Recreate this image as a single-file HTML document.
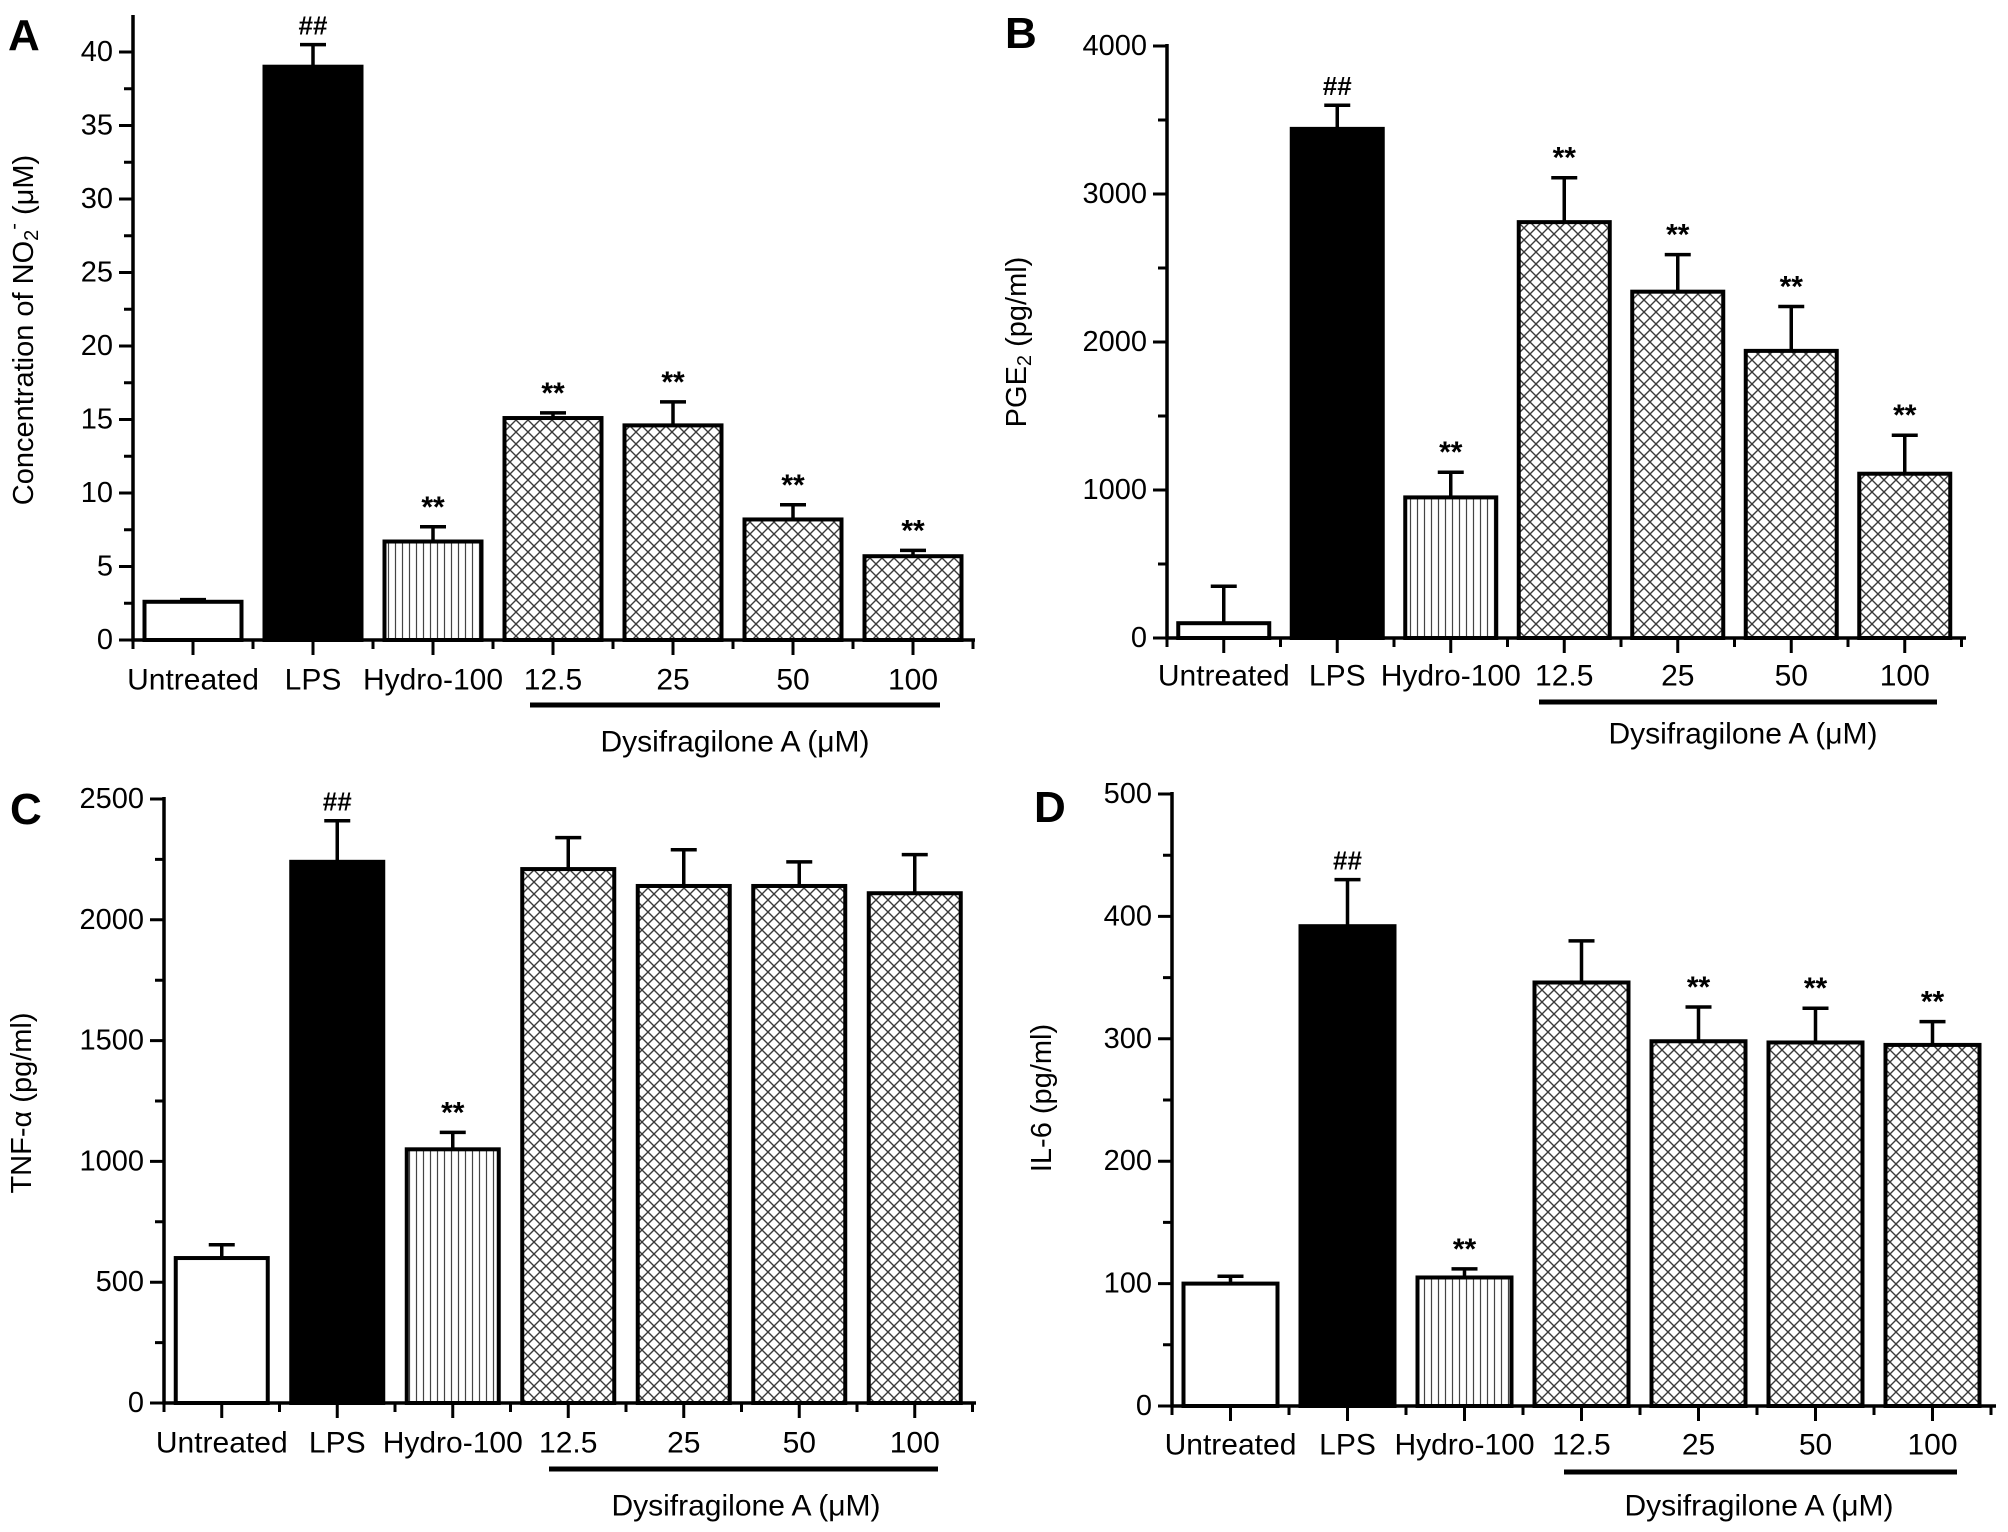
<!DOCTYPE html>
<html><head><meta charset="utf-8"><style>
html,body{margin:0;padding:0;background:#fff;}
svg{display:block;font-family:"Liberation Sans",Arial,sans-serif;}
</style></head><body>
<svg id="fig" width="2008" height="1532" viewBox="0 0 2008 1532" xmlns="http://www.w3.org/2000/svg">
<defs>
<pattern id="cross" patternUnits="userSpaceOnUse" width="12" height="12">
<rect width="12" height="12" fill="#fff"/>
<path d="M0,0L12,12M12,0L0,12M-3,9L3,15M9,-3L15,3M-3,3L3,-3M9,15L15,9" stroke="#3a3a3a" stroke-width="1.4"/>
</pattern>
<pattern id="vert" patternUnits="userSpaceOnUse" width="7" height="10">
<rect width="7" height="10" fill="#fff"/>
<line x1="3.5" y1="0" x2="3.5" y2="10" stroke="#444" stroke-width="1.2"/>
</pattern>
</defs>
</svg>
<script>
const categories = ["Untreated","LPS","Hydro-100","12.5","25","50","100"];
const valuesA = [2.6, 39, 6.7, 15.1, 14.6, 8.2, 5.7];
const errorsA = [0.15, 1.5, 1.0, 0.35, 1.6, 1.0, 0.4];
const sigA = ["", "##", "**", "**", "**", "**", "**"];
const ticksA = [0,5,10,15,20,25,30,35,40];
const valuesB = [100, 3440, 950, 2810, 2340, 1940, 1110];
const errorsB = [250, 160, 170, 300, 250, 300, 260];
const sigB = ["", "##", "**", "**", "**", "**", "**"];
const ticksB = [0,1000,2000,3000,4000];
const valuesC = [600, 2240, 1050, 2210, 2140, 2140, 2110];
const errorsC = [55, 170, 70, 130, 150, 100, 160];
const sigC = ["", "##", "**", "", "", "", ""];
const ticksC = [0,500,1000,1500,2000,2500];
const valuesD = [100, 392, 105, 346, 298, 297, 295];
const errorsD = [6, 38, 7, 34, 28, 28, 19];
const sigD = ["", "##", "**", "", "**", "**", "**"];
const ticksD = [0,100,200,300,400,500];

const NS = "http://www.w3.org/2000/svg";
const svg = document.getElementById("fig");
function mk(tag, attrs, parent){
  const e = document.createElementNS(NS, tag);
  for (const k in attrs) e.setAttribute(k, attrs[k]);
  (parent||svg).appendChild(e);
  return e;
}
const fills = ["#fff","#000","url(#vert)","url(#cross)","url(#cross)","url(#cross)","url(#cross)"];

function panel(p){
  const g = mk("g", {});
  
  
  const maxV = p.ticks[p.ticks.length-1];
  const y = v => p.y0 - (v / maxV) * (p.y0 - p.yTop);
  const xc = i => p.xStart + p.step * (i + 0.5);
  // letter
  const L = mk("text", {x:p.lx, y:p.ly, "font-size":44, "font-weight":"bold"}, g);
  L.textContent = p.id;
  
  
  // bars
  categories.forEach((c,i)=>{
    const v = p.values[i], e = p.errors[i];
    const bx = xc(i) - p.bw/2;
    const r = mk("rect", {x:bx, y:y(v), width:p.bw, height:p.y0 - y(v), fill:fills[i], stroke:"#000", "stroke-width":4}, g);
    
    
    const eb = mk("path", {d:`M${xc(i)},${y(v)}V${y(v+e)}M${xc(i)-13},${y(v+e)}H${xc(i)+13}`, stroke:"#000", "stroke-width":3.5, fill:"none"}, g);
    
    
    if (p.sig[i]) {
      const s = mk("text", {x:xc(i), y:y(v+e)-10, "font-size":p.sig[i]==="##"?26:30, "font-weight":"bold", "text-anchor":"middle"}, g);
      s.textContent = p.sig[i];
      
      
    }
    const t = mk("text", {x:xc(i), y:p.labY, "font-size":30, "text-anchor":"middle", "dominant-baseline":"central"}, g);
    t.textContent = c;
    
    
  });
  // axes
  const ax = mk("path", {d:`M${p.xStart},${p.axTop}V${p.y0}H${p.xEnd}`, stroke:"#000", "stroke-width":3.5, fill:"none"}, g);
  
  
  let d = "";
  p.ticks.forEach((tv,k)=>{
    d += `M${p.xStart-14},${y(tv)}H${p.xStart}`;
    if (k < p.ticks.length-1) { const m = (tv + p.ticks[k+1])/2; d += `M${p.xStart-9},${y(m)}H${p.xStart}`; }
    const t = mk("text", {x:p.xStart-20, y:y(tv), "font-size":29, "text-anchor":"end", "dominant-baseline":"central"}, g);
    t.textContent = tv;
    
    
  });
  for (let i=0;i<=categories.length;i++){
    const bxp = p.xStart + p.step*i;
    d += `M${bxp},${p.y0}V${p.y0+9}`;
    if (i<categories.length) d += `M${xc(i)},${p.y0}V${p.y0+15}`;
  }
  const tk = mk("path", {d, stroke:"#000", "stroke-width":3, fill:"none"}, g);
  
  
  // group underline and label
  const ul = mk("line", {x1:p.ulX1, x2:p.ulX2, y1:p.ulY, y2:p.ulY, stroke:"#000", "stroke-width":5}, g);
  
  
  const gl = mk("text", {x:p.glX, y:p.glY, "font-size":30, "text-anchor":"middle", "dominant-baseline":"central"}, g);
  gl.textContent = "Dysifragilone A (\u03bcM)";
  
  
  // y title
  const yt = mk("text", {x:0, y:0, "font-size":29, "text-anchor":"middle", "dominant-baseline":"central", transform:`translate(${p.ytX},${p.ytY}) rotate(-90)`}, g);
  yt.innerHTML = p.ytitle;
  
  
}

panel({id:"A", values:valuesA, errors:errorsA, sig:sigA, ticks:ticksA,
  xStart:133, step:120, bw:97, xEnd:975, y0:640, yTop:52, axTop:15,
  lx:8, ly:50, labY:680, ulX1:530, ulX2:940, ulY:705, glX:735, glY:742,
  ytX:24, ytY:330, ytitle:'Concentration of NO<tspan font-size="20" dy="8">2</tspan><tspan font-size="20" dy="-18">-</tspan><tspan dy="10"> (\u03bcM)</tspan>'});
panel({id:"B", values:valuesB, errors:errorsB, sig:sigB, ticks:ticksB,
  xStart:1167, step:113.5, bw:91, xEnd:1966, y0:638, yTop:46, axTop:44,
  lx:1005, ly:48, labY:676, ulX1:1539, ulX2:1937, ulY:702, glX:1743, glY:734,
  ytX:1017, ytY:342, ytitle:'PGE<tspan font-size="20" dy="8">2</tspan><tspan dy="-8"> (pg/ml)</tspan>'});
panel({id:"C", values:valuesC, errors:errorsC, sig:sigC, ticks:ticksC,
  xStart:164, step:115.5, bw:92, xEnd:976, y0:1403, yTop:799, axTop:797,
  lx:10, ly:824, labY:1443, ulX1:549, ulX2:938, ulY:1469, glX:746, glY:1506,
  ytX:22, ytY:1103, ytitle:'TNF-\u03b1 (pg/ml)'});
panel({id:"D", values:valuesD, errors:errorsD, sig:sigD, ticks:ticksD,
  xStart:1172, step:117, bw:94, xEnd:1996, y0:1406, yTop:794, axTop:792,
  lx:1034, ly:822, labY:1445, ulX1:1564, ulX2:1957, ulY:1472, glX:1759, glY:1506,
  ytX:1042, ytY:1098, ytitle:'IL-6 (pg/ml)'});
</script>
</body></html>
